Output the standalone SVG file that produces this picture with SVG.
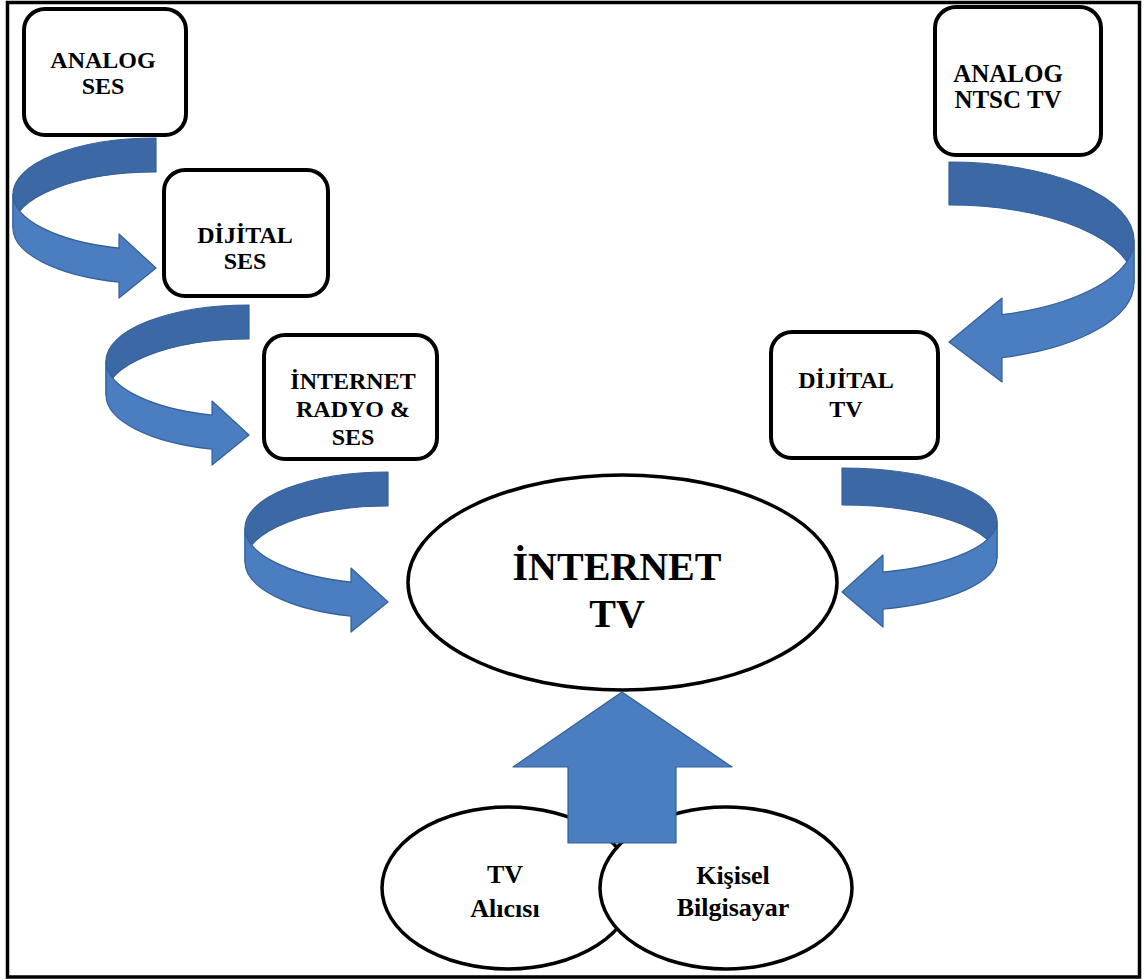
<svg xmlns="http://www.w3.org/2000/svg" width="1146" height="980" viewBox="0 0 1146 980">
<style>
.box{fill:#fff;stroke:#000;stroke-width:4}
.ell{fill:#fff;stroke:#000;stroke-width:3.5}
.t{font-family:"Liberation Serif","Times New Roman",serif;font-weight:bold;fill:#000;text-anchor:middle}
.back{fill:#3c68a6;stroke:#34609a;stroke-width:1.2;stroke-linejoin:round}
.front{fill:#4a7ec0;stroke:#34609a;stroke-width:1.2;stroke-linejoin:round}
</style>
<defs>
<g id="larrow">
<path class="back" d="M0,0 A143,56 0 0 0 -143,56 L-143,90 A143,56 0 0 1 0,34 Z"/>
<path class="front" d="M-143,56 A143,56 0 0 0 -37,110.1 L-37,96 L0,130 L-37,160 L-37,144.1 A143,56 0 0 1 -143,90 Z"/>
</g>
</defs>
<rect x="0" y="0" width="1146" height="980" fill="#fff"/>
<rect x="7.5" y="2.5" width="1132" height="974.5" fill="none" stroke="#000" stroke-width="3.5"/>

<g id="analog-ses">
<rect class="box" x="24" y="9" width="162" height="126" rx="21"/>
<text class="t" x="103" y="68" font-size="24">ANALOG</text>
<text class="t" x="103" y="94" font-size="24">SES</text>
</g>
<g id="dijital-ses">
<rect class="box" x="164" y="170" width="164" height="126" rx="21"/>
<text class="t" x="245" y="243" font-size="24">DİJİTAL</text>
<text class="t" x="245" y="269" font-size="24">SES</text>
</g>
<g id="internet-radyo">
<rect class="box" x="264" y="335" width="173" height="124" rx="21"/>
<text class="t" x="353" y="389" font-size="24">İNTERNET</text>
<text class="t" x="353" y="417" font-size="24">RADYO &amp;</text>
<text class="t" x="353" y="445" font-size="24">SES</text>
</g>
<g id="analog-ntsc">
<rect class="box" x="935" y="7" width="166" height="148" rx="21"/>
<text class="t" x="1008" y="82" font-size="25">ANALOG</text>
<text class="t" x="1008" y="108" font-size="25">NTSC TV</text>
</g>
<g id="dijital-tv">
<rect class="box" x="771" y="332" width="167" height="126" rx="21"/>
<text class="t" x="846" y="388" font-size="24">DİJİTAL</text>
<text class="t" x="846" y="417" font-size="24">TV</text>
</g>
<g id="internet-tv">
<ellipse class="ell" cx="622.5" cy="582.5" rx="214.5" ry="107.5"/>
<text class="t" x="617" y="580" font-size="40">İNTERNET</text>
<text class="t" x="617" y="627" font-size="40">TV</text>
</g>
<g id="tv-alicisi">
<ellipse class="ell" cx="508" cy="888" rx="126" ry="81"/>
<text class="t" x="505" y="883" font-size="26">TV</text>
<text class="t" x="505" y="917" font-size="26">Alıcısı</text>
</g>
<g id="kisisel-bilgisayar">
<ellipse class="ell" cx="726" cy="888" rx="126" ry="81"/>
<text class="t" x="733" y="884" font-size="26">Kişisel</text>
<text class="t" x="733" y="916" font-size="26">Bilgisayar</text>
</g>

<g id="connectors">
<use href="#larrow" transform="translate(156,138)"/>
<use href="#larrow" transform="translate(249,305)"/>
<use href="#larrow" transform="translate(388,472)"/>
<g transform="translate(949,162)">
<path class="back" d="M0,0 A185,78 0 0 1 185,78 L185,121 A185,78 0 0 0 0,43 Z"/>
<path class="front" d="M185,78 A185,78 0 0 1 53,152.7 L53,136 L0,180 L53,220 L53,195.7 A185,78 0 0 0 185,121 Z"/>
</g>
<g transform="translate(842,468)">
<path class="back" d="M0,0 A155,53 0 0 1 155,53 L155,90 A155,53 0 0 0 0,37 Z"/>
<path class="front" d="M155,53 A155,53 0 0 1 41,104.1 L41,87 L0,124 L41,159 L41,141.1 A155,53 0 0 0 155,90 Z"/>
</g>
<path class="front" d="M622,692 L732,767 L676,767 L676,843 L568,843 L568,767 L513,767 Z"/>
</g>
</svg>
